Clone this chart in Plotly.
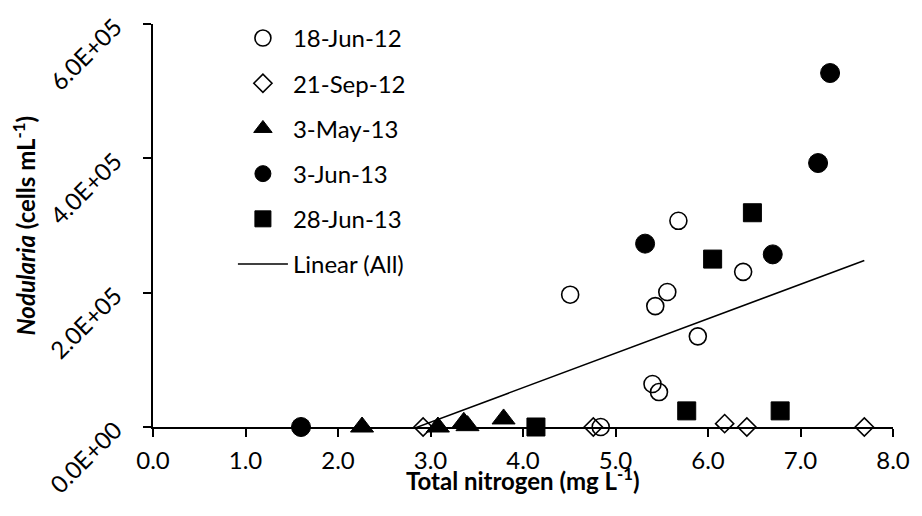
import numpy as np
import plotly.graph_objects as go

# ---- data ----
jun12_x = [4.51, 5.68, 5.56, 5.43, 6.38, 5.89, 5.40, 5.47, 4.84]
jun12_y = [197000, 307000, 201000, 180000, 231000, 135000, 64000, 52000, 0]
sep12_x = [2.92, 4.76, 6.18, 6.42, 7.69]
sep12_y = [0, 0, 5000, 0, 0]
may13_x = [2.26, 3.08, 3.36, 3.40, 3.79]
may13_y = [0, 0, 7000, 2000, 12000]
jun13_x = [1.60, 7.32, 7.19, 5.32, 6.70]
jun13_y = [0, 527000, 393000, 273000, 257000]
jun28_x = [6.48, 6.05, 5.77, 6.78, 4.14]
jun28_y = [319000, 250000, 24000, 24000, 0]

series_names = ["18-Jun-12", "21-Sep-12", "3-May-13", "3-Jun-13", "28-Jun-13"]
x_ticks = [0, 1, 2, 3, 4, 5, 6, 7, 8]
y_ticks = [0, 200000, 400000, 600000]
y_tick_labels = ["0.0E+00", "2.0E+05", "4.0E+05", "6.0E+05"]

FONT = "Lato"
FS = 24
BLACK = "black"

fig = go.Figure()

styles = [
    dict(symbol="circle-open", size=17, color=BLACK, line=dict(width=1.6, color=BLACK)),
    dict(symbol="diamond-open", size=14, color=BLACK, line=dict(width=1.6, color=BLACK)),
    dict(symbol="triangle-up", size=20, color=BLACK, line=dict(width=1, color=BLACK)),
    dict(symbol="circle", size=19, color=BLACK, line=dict(width=1, color=BLACK)),
    dict(symbol="square", size=18, color=BLACK, line=dict(width=1, color=BLACK)),
]
xs = [jun12_x, sep12_x, may13_x, jun13_x, jun28_x]
ys = [jun12_y, sep12_y, may13_y, jun13_y, jun28_y]

for name, x, y, st in zip(series_names, xs, ys, styles):
    fig.add_trace(go.Scatter(
        x=x, y=y, mode="markers", name=name, legendgroup=name,
        marker=st, cliponaxis=False,
    ))

# linear trendline over all points
all_x = np.concatenate([np.array(v, float) for v in xs])
all_y = np.concatenate([np.array(v, float) for v in ys])
slope, intercept = np.polyfit(all_x, all_y, 1)
tx = np.array([all_x.min(), all_x.max()])
ty = slope * tx + intercept
fig.add_trace(go.Scatter(
    x=tx, y=ty, mode="lines", name="Linear (All)", legendgroup="lin",
    line=dict(color=BLACK, width=1.5),
))

axis_common = dict(
    showline=True, linecolor=BLACK, linewidth=2,
    ticks="outside", ticklen=8, tickwidth=2, tickcolor=BLACK,
    showgrid=False, zeroline=False,
    tickfont=dict(family=FONT, size=FS, color=BLACK),
)

fig.update_layout(
    width=922, height=516,
    margin=dict(l=153, r=20, t=15, b=89),
    paper_bgcolor="white", plot_bgcolor="white",
    font=dict(family=FONT, size=FS, color=BLACK),
    xaxis=dict(range=[0, 8], tickvals=x_ticks, tickformat=".1f",
               ticklabelstandoff=3, **axis_common),
    yaxis=dict(range=[0, 600000], tickvals=y_ticks, ticktext=y_tick_labels,
               tickangle=-45, ticklabelstandoff=23, **axis_common),
    showlegend=True,
    legend=dict(
        x=0.108, y=1.02, xanchor="left", yanchor="top",
        traceorder="grouped", tracegroupgap=11, maxheight=420,
        itemwidth=50, font=dict(family=FONT, size=FS, color=BLACK),
        bgcolor="rgba(0,0,0,0)", itemsizing="trace",
    ),
    annotations=[
        dict(text="<b>Total nitrogen (mg L<sup>-1</sup>)</b>", xref="paper", yref="paper",
             x=0.5, y=0, yshift=-52, xanchor="center", yanchor="middle",
             showarrow=False, font=dict(family=FONT, size=FS, color=BLACK)),
        dict(text="<b><i>Nodularia</i> (cells mL<sup>-1</sup>)</b>", xref="paper", yref="paper",
             x=0, y=0.5, xshift=-130, xanchor="center", yanchor="middle", textangle=-90,
             showarrow=False, font=dict(family=FONT, size=FS, color=BLACK)),
    ],
)

fig.write_html("out.html")
